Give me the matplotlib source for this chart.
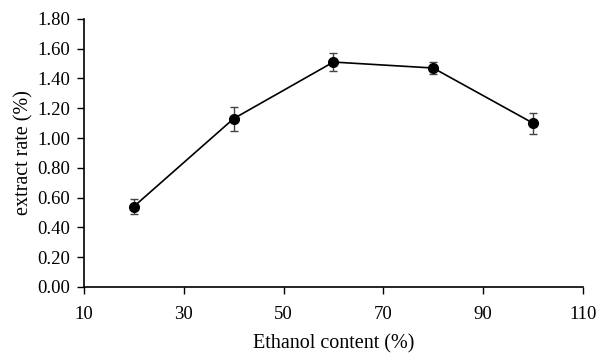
import matplotlib
matplotlib.use('Agg')
from matplotlib import pyplot as plt
from matplotlib.ticker import FormatStrFormatter

# Data.
ethanolContent = [20, 40, 60, 80, 100]
extractRate = [0.54, 1.13, 1.51, 1.47, 1.10]
extractErr = [0.05, 0.08, 0.06, 0.04, 0.07]
xTicks = [10, 30, 50, 70, 90, 110]
yTicks = [0.0, 0.2, 0.4, 0.6, 0.8, 1.0, 1.2, 1.4, 1.6, 1.8]

plt.rcParams['font.family'] = ['Liberation Serif', 'DejaVu Serif']

fig = plt.figure(figsize=(6.04, 3.56), dpi=100)
ax = fig.add_axes([0.139, 0.194, 0.826, 0.753])

ax.errorbar(ethanolContent, extractRate, yerr=extractErr, color='black',
            ecolor='#444444', elinewidth=1, capsize=3, capthick=1,
            marker='o', markersize=7, linewidth=1.2)

ax.set_xlim(10, 110)
ax.set_ylim(0, 1.8)
ax.set_xticks(xTicks)
ax.set_yticks(yTicks)
ax.yaxis.set_major_formatter(FormatStrFormatter('%.2f'))
ax.tick_params(direction='out', length=5, width=1, labelsize=13.5, colors='black')
ax.tick_params(axis='x', pad=9)
ax.tick_params(axis='y', pad=5)

for side in ['top', 'right']:
  ax.spines[side].set_visible(False)
for side in ['left', 'bottom']:
  ax.spines[side].set_linewidth(1.2)

ax.set_xlabel('Ethanol content (%)', fontsize=14.5, labelpad=8)
ax.set_ylabel('extract rate (%)', fontsize=14.5, labelpad=3)

fig.savefig('out.png', dpi=100)
